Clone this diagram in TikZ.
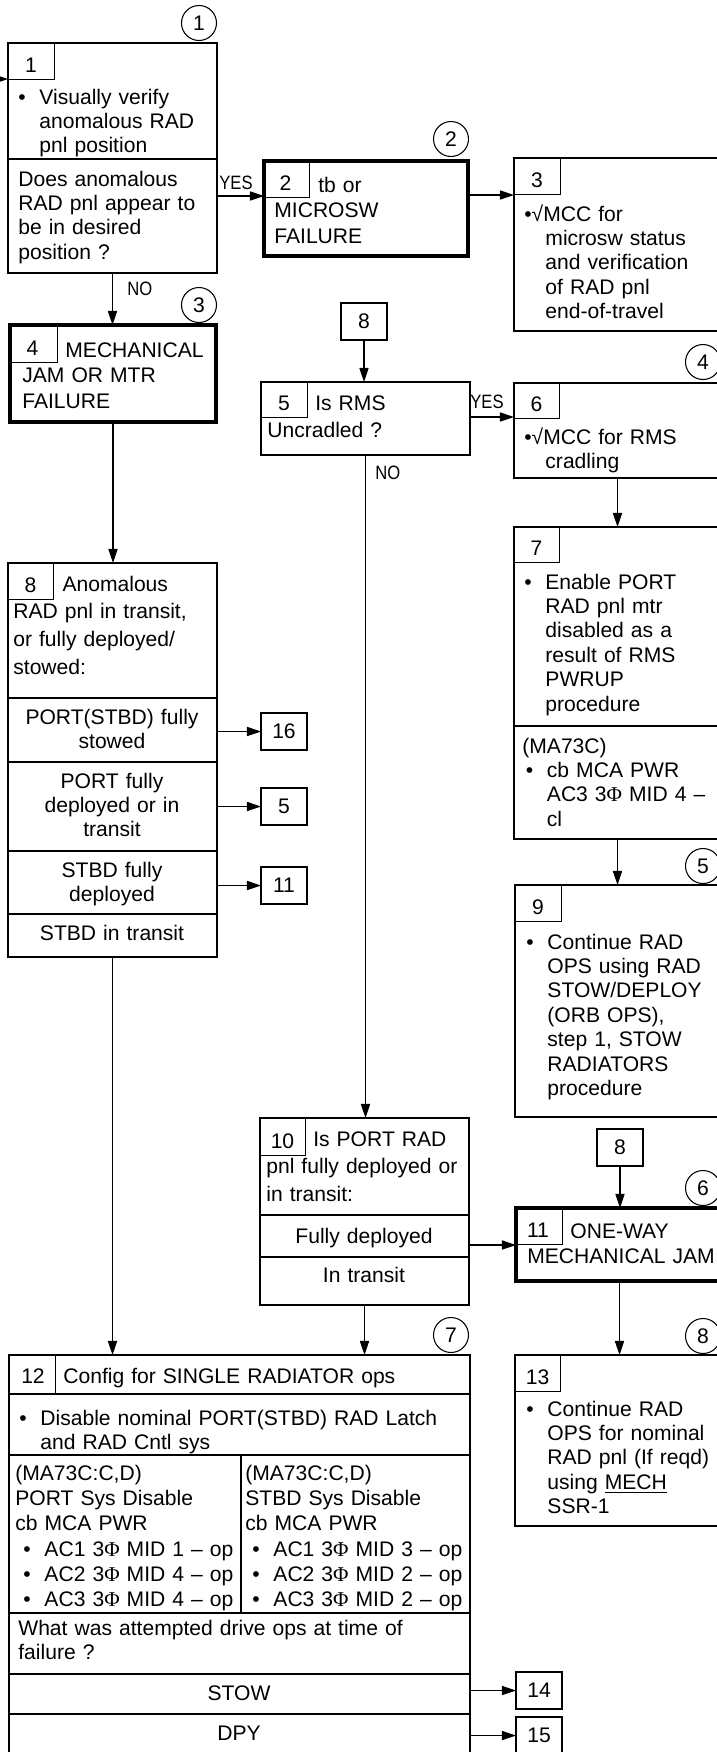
\documentclass[tikz,border=0pt]{standalone}
\usepackage{fontspec}
\setmainfont{Liberation Sans}
\newfontfamily\serifphi{Liberation Serif}
\usepackage{graphicx}
\usetikzlibrary{arrows.meta}
\newcommand{\upx}{0.02cm}
\newcommand{\fsA}{\fontsize{12}{13.9}\selectfont}
\newcommand{\fsK}{\fontsize{12}{14.7}\selectfont}
\newcommand{\fsW}{\fontsize{12}{15.9}\selectfont}
\newcommand{\fsS}{\fontsize{12}{14.45}\selectfont}
\newcommand{\fsB}{\fontsize{11}{13}\selectfont}
\newcommand{\phs}{{\serifphi Φ}}
\newcommand{\bul}{\makebox[12pt][l]{•}}
\newcommand{\ind}{\hspace*{12pt}}
\newcommand{\ynlabel}[1]{\scalebox{0.86}[1]{#1}}
\tikzset{
  box/.style={draw, line width=0.7pt, anchor=north west, inner sep=0pt, outer sep=0pt},
  thickbox/.style={box, line width=2.3pt},
  numline/.style={line width=0.5pt},
  rule/.style={line width=0.7pt},
  refb/.style={box, minimum width=46*\upx, minimum height=37*\upx, font=\fsA},
  num/.style={anchor=base, inner sep=0pt, font=\fsA},
  tagc/.style={draw, circle, line width=0.6pt, minimum size=35*\upx, inner sep=0pt, font=\fsA},
  txt/.style={anchor=base west, inner sep=0pt, text width=300pt, align=left, font=\fsA},
  ctxt/.style={anchor=base, inner sep=0pt, text width=200pt, align=center, font=\fsA},
  yn/.style={anchor=base west, inner sep=0pt, font=\fsB},
  arr/.style={line width=0.6pt, -{Triangle[length=8pt, width=5.2pt]}},
}
\newcommand{\flowbox}[6][box]{%
  \node[#1, minimum width={(#5-#3)*\upx}, minimum height={(#6-#4)*\upx}] (#2) at (#3,#4) {};%
}
\newcommand{\numcell}[6]{%
  \draw[numline] (#2,#3) rectangle (#4,#5);
  \node[num] (#1) at ({(#2+#4)/2},#5-7) {#6};%
}
\newcommand{\gotobox}[4]{%
  \node[refb] (#1) at (#2,#3) {#4};%
}

\begin{document}
\begin{tikzpicture}[x=0.02cm, y=-0.02cm]
  \path[use as bounding box] (0,0) rectangle (717,1752);
  \clip (0,0) rectangle (717,1752);

  % Step 1
  \flowbox{b1}{8}{43}{217}{273}
  \numcell{n1}{8}{43}{54}{79}{1}
  \draw[rule] (8,159) -- (217,159);
  \node[txt] (t1a) at (18,104) {\bul Visually verify\\\ind anomalous RAD\\\ind pnl position};
  \node[txt] (t1b) at (18,186) {Does anomalous\\RAD pnl appear to\\be in desired\\position ?};
  \node[tagc] (c1) at (199,23) {1};
  \coordinate (in1) at (-12,79);

  % Step 2
  \flowbox[thickbox]{b2}{264}{161}{468}{256}
  \numcell{n2}{262}{159}{309}{197}{2}
  \node[txt, font=\fsK] (t2) at (274,192) {\hspace*{25pt}tb or\\MICROSW\\FAILURE};
  \node[tagc] (c2) at (451,139) {2};

  % Step 3
  \flowbox{b3}{514}{158}{721}{331}
  \numcell{n3}{514}{158}{560}{194}{3}
  \node[txt] (t3) at (524,221) {•√MCC for\\\ind microsw status\\\ind and verification\\\ind of RAD pnl\\\ind end-of-travel};

  % Step 4
  \flowbox[thickbox]{b4}{10}{325}{216}{422}
  \numcell{n4}{8}{323}{57}{362}{4}
  \node[txt, font=\fsK] (t4) at (22,357) {\hspace*{24.5pt}MECHANICAL\\JAM OR MTR\\FAILURE};
  \node[tagc] (c3) at (199,305) {3};

  % Step 5
  \gotobox{r8a}{341}{303}{8}
  \flowbox{b5}{261}{382}{470}{455}
  \numcell{n5}{261}{382}{307}{417}{5}
  \node[txt, font=\fsW] (t5) at (267,410) {\hspace*{27.3pt}Is RMS\\Uncradled ?};

  % Step 6
  \flowbox{b6}{514}{383}{721}{478}
  \numcell{n6}{514}{383}{559}{418}{6}
  \node[txt] (t6) at (524,444) {•√MCC for RMS\\\ind cradling};
  \node[tagc] (c4) at (703,362) {4};

  % Step 7
  \flowbox{b7}{514}{527}{721}{839}
  \numcell{n7}{514}{527}{559}{562}{7}
  \draw[rule] (514,726) -- (721,726);
  \node[txt] (t7a) at (524,589) {\bul Enable PORT\\\ind RAD pnl mtr\\\ind disabled as a\\\ind result of RMS\\\ind PWRUP\\\ind procedure};
  \node[txt] (t7b) at (522,753) {(MA73C)\\\hspace*{2pt}\bul cb MCA PWR\\\hspace*{2pt}\ind AC3 3\phs{} MID 4 –\\\hspace*{2pt}\ind cl};

  % Step 8
  \flowbox{b8}{8}{563}{217}{957}
  \numcell{n8}{8}{563}{53}{599}{8}
  \foreach \y in {698,762,851,914}
    \draw[rule] (8,\y) -- (217,\y);
  \node[txt, font=\fsW] (t8) at (13,591) {\hspace*{28pt}Anomalous\\RAD pnl in transit,\\or fully deployed/\\stowed:};
  \node[ctxt] (t8a) at (112,724) {PORT(STBD) fully\\stowed};
  \node[ctxt] (t8b) at (112,788) {PORT fully\\deployed or in\\transit};
  \node[ctxt] (t8c) at (112,877) {STBD fully\\deployed};
  \node[ctxt] (t8d) at (112,940) {STBD in transit};
  \gotobox{r16}{261}{713}{16}
  \gotobox{r5}{261}{788}{5}
  \gotobox{r11}{261}{867}{11}

  % Step 9
  \flowbox{b9}{515}{885}{721}{1117}
  \numcell{n9}{515}{885}{561}{921}{9}
  \node[txt] (t9) at (526,949) {\bul Continue RAD\\\ind OPS using RAD\\\ind STOW/DEPLOY\\\ind (ORB OPS),\\\ind step 1, STOW\\\ind RADIATORS\\\ind procedure};
  \node[tagc] (c5) at (703,866) {5};

  % Step 10
  \flowbox{b10}{260}{1118}{469}{1305}
  \numcell{n10}{260}{1118}{305}{1155}{10}
  \foreach \y in {1215,1257}
    \draw[rule] (260,\y) -- (469,\y);
  \node[txt, font=\fsW] (t10) at (266,1146) {\hspace*{26.7pt}Is PORT RAD\\pnl fully deployed or\\in transit:};
  \node[ctxt] (t10a) at (364,1243) {Fully deployed};
  \node[ctxt] (t10b) at (364,1282) {In transit};

  % Step 11
  \gotobox{r8b}{597}{1129}{8}
  \flowbox[thickbox]{b11}{516}{1208}{723}{1281}
  \numcell{n11}{514}{1206}{562}{1244}{11}
  \node[txt, font=\fsK] (t11) at (527,1238) {\hspace*{24.5pt}ONE-WAY\\MECHANICAL JAM};
  \node[tagc] (c6) at (703,1188) {6};

  % Step 12
  \flowbox{b12}{9}{1355}{470}{1756}
  \draw[numline] (55,1355) -- (55,1394);
  \foreach \y in {1394,1455,1613,1674,1714}
    \draw[rule] (9,\y) -- (470,\y);
  \draw[rule] (241,1455) -- (241,1613);
  \node[num] (n12) at (33,1383) {12};
  \node[txt] (t12) at (63,1383) {Config for SINGLE RADIATOR ops};
  \node[txt] (t12a) at (19,1425) {\bul Disable nominal PORT(STBD) RAD Latch\\\ind and RAD Cntl sys};
  \node[txt, font=\fsS] (t12b) at (15,1480) {(MA73C:C,D)\\PORT Sys Disable\\cb MCA PWR\\\hspace*{4.6pt}\bul AC1 3\phs{} MID 1 – op\\\hspace*{4.6pt}\bul AC2 3\phs{} MID 4 – op\\\hspace*{4.6pt}\bul AC3 3\phs{} MID 4 – op};
  \node[txt, font=\fsS] (t12c) at (245,1480) {(MA73C:C,D)\\STBD Sys Disable\\cb MCA PWR\\\hspace*{4pt}\bul AC1 3\phs{} MID 3 – op\\\hspace*{4pt}\bul AC2 3\phs{} MID 2 – op\\\hspace*{4pt}\bul AC3 3\phs{} MID 2 – op};
  \node[txt] (t12d) at (18,1635) {What was attempted drive ops at time of\\failure ?};
  \node[ctxt] (t12e) at (239,1700) {STOW};
  \node[ctxt] (t12f) at (239,1740) {DPY};
  \gotobox{r14}{516}{1672}{14}
  \gotobox{r15}{516}{1717}{15}
  \node[tagc] (c7) at (451,1335) {7};

  % Step 13
  \flowbox{b13}{515}{1355}{721}{1526}
  \numcell{n13}{515}{1355}{560}{1391}{13}
  \node[txt] (t13) at (526,1416) {\bul Continue RAD\\\ind OPS for nominal\\\ind RAD pnl (If reqd)\\\ind using \underline{MECH}\\\ind SSR-1};
  \node[tagc] (c8) at (703,1336) {8};

  % YES / NO
  \node[yn] (yes1) at (219,189) {\ynlabel{YES}};
  \node[yn] (no1) at (127,295) {\ynlabel{NO}};
  \node[yn] (yes2) at (470,408) {\ynlabel{YES}};
  \node[yn] (no2) at (375,479) {\ynlabel{NO}};

  % connectors
  \draw[arr] (in1) -- (in1 -| b1.west);
  \draw[arr] (b1.east |- 0,196) -- (b2.west |- 0,196);
  \draw[arr] (b1.south) -- (b1.south |- b4.north);
  \draw[arr] (b2.east |- 0,195) -- (b3.west |- 0,195);
  \draw[arr] (r8a) -- (r8a |- b5.north);
  \draw[arr] (b5.east |- 0,417) -- (b6.west |- 0,417);
  \draw[arr] (b5.south) -- (b5.south |- b10.north);
  \draw[arr] (b4.south) -- (b4.south |- b8.north);
  \draw[arr] (b6.south) -- (b6.south |- b7.north);
  \draw[arr] (b7.south) -- (b7.south |- b9.north);
  \draw[arr] (b8.east |- r16) -- (r16);
  \draw[arr] (b8.east |- r5) -- (r5);
  \draw[arr] (b8.east |- r11) -- (r11);
  \draw[arr] (b8.south) -- (b8.south |- b12.north);
  \draw[arr] (b10.south) -- (b10.south |- b12.north);
  \draw[arr] (b10.east |- 0,1245) -- (b11.west |- 0,1245);
  \draw[arr] (r8b) -- (r8b |- b11.north);
  \draw[arr] (b11.south) -- (b11.south |- b13.north);
  \draw[arr] (b12.east |- r14) -- (r14);
  \draw[arr] (b12.east |- r15) -- (r15);
\end{tikzpicture}
\end{document}
